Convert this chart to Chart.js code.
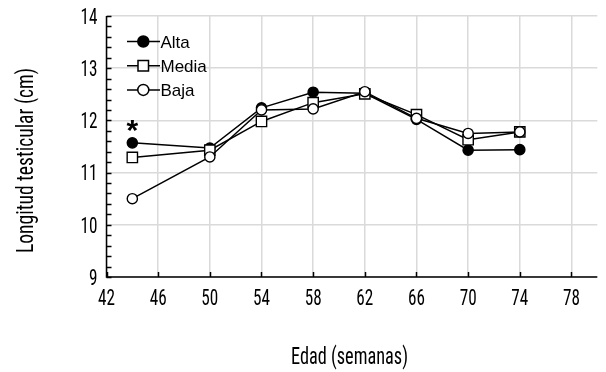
<!DOCTYPE html>
<html>
<head>
<meta charset="utf-8">
<script src="https://cdn.jsdelivr.net/npm/chart.js@4/dist/chart.umd.min.js"></script>
<style>
  html, body { margin: 0; padding: 0; background: #ffffff; }
  #wrap { width: 606px; height: 372px; position: relative; }
</style>
</head>
<body>
<div id="wrap"><canvas id="c" width="606" height="372"></canvas></div>
<script>
// Testicular length (cm) by age (weeks) for three groups
const ages = [44, 50, 54, 58, 62, 66, 70, 74];
const alta  = [11.57, 11.47, 12.24, 12.54, 12.52, 12.02, 11.43, 11.44];
const media = [11.29, 11.43, 11.98, 12.34, 12.51, 12.11, 11.63, 11.78];
const baja  = [10.50, 11.30, 12.20, 12.22, 12.55, 12.04, 11.75, 11.78];
const xTicks = [42, 46, 50, 54, 58, 62, 66, 70, 74, 78];
const yTicks = [9, 10, 11, 12, 13, 14];
const seriesNames = ['Alta', 'Media', 'Baja'];
const xTitle = 'Edad (semanas)';
const yTitle = 'Longitud testicular (cm)';

const COND = '"Roboto Condensed", "DejaVu Sans Condensed", sans-serif';
const SANS = '"Liberation Sans", Arial, sans-serif';

function pts(vals) { return ages.map((a, i) => ({ x: a, y: vals[i] })); }

// Narrow text: condensed face squeezed horizontally by factor sx
function narrowText(ctx, str, x, y, size, sx, align) {
  ctx.save();
  ctx.font = size + 'px ' + COND;
  ctx.textBaseline = 'alphabetic';
  ctx.textAlign = 'left';
  const w = ctx.measureText(str).width * sx;
  let x0 = x;
  if (align === 'center') x0 = x - w / 2;
  else if (align === 'right') x0 = x - w;
  ctx.translate(x0, y);
  ctx.scale(sx, 1);
  ctx.fillText(str, 0, 0);
  ctx.restore();
}

function fitScale(ctx, str, size, width) {
  ctx.save();
  ctx.font = size + 'px ' + COND;
  const w = ctx.measureText(str).width;
  ctx.restore();
  return width / w;
}

// Inward tick marks, tick labels, axis titles, significance mark and the legend
const decor = {
  id: 'decor',
  afterDraw(chart) {
    const { ctx, chartArea: ca, scales: { x, y } } = chart;
    ctx.save();
    ctx.strokeStyle = '#000';
    ctx.fillStyle = '#000';
    ctx.lineWidth = 1.5;
    // y ticks, minor every 0.2
    for (let k = 0; k <= 25; k++) {
      const v = 9 + k * 0.2;
      const py = Math.round(y.getPixelForValue(v)) + 0.5;
      ctx.beginPath(); ctx.moveTo(ca.left, py); ctx.lineTo(ca.left + 5, py); ctx.stroke();
    }
    // x ticks
    xTicks.forEach(t => {
      const px = Math.round(x.getPixelForValue(t)) + 0.5;
      ctx.beginPath(); ctx.moveTo(px, ca.bottom); ctx.lineTo(px, ca.bottom - 5); ctx.stroke();
    });
    // axes
    ctx.beginPath();
    ctx.moveTo(ca.left, ca.top); ctx.lineTo(ca.left, ca.bottom); ctx.lineTo(ca.right, ca.bottom);
    ctx.stroke();

    // tick labels
    const TS = 22, SX = 0.78;
    yTicks.forEach(t => {
      narrowText(ctx, String(t), ca.left - 9, y.getPixelForValue(t) + 7.8, TS, SX, 'right');
    });
    xTicks.forEach(t => {
      narrowText(ctx, String(t), x.getPixelForValue(t), ca.bottom + 28, TS, SX, 'center');
    });

    // axis titles
    narrowText(ctx, xTitle, 349.5, 364.3, 23.5, fitScale(ctx, xTitle, 23.5, 117), 'center');
    ctx.save();
    ctx.translate(33, 160.5);
    ctx.rotate(-Math.PI / 2);
    narrowText(ctx, yTitle, 0, 0, 24, fitScale(ctx, yTitle, 24, 185), 'center');
    ctx.restore();

    // significance asterisk over the first age
    ctx.font = 'bold 30px ' + SANS;
    ctx.textAlign = 'center'; ctx.textBaseline = 'alphabetic';
    ctx.fillText('*', x.getPixelForValue(ages[0]), y.getPixelForValue(alta[0]) - 3);

    // legend: line with marker, then label
    const ds = chart.data.datasets;
    ctx.font = '17px ' + SANS;
    ctx.textAlign = 'left';
    ctx.textBaseline = 'alphabetic';
    [0, 1, 2].forEach((i, k) => {
      const ly = 41.5 + k * 24.2;
      const d = ds[i];
      ctx.strokeStyle = '#000'; ctx.lineWidth = 1.5;
      ctx.beginPath(); ctx.moveTo(127, ly); ctx.lineTo(160, ly); ctx.stroke();
      ctx.fillStyle = d.pointBackgroundColor;
      ctx.beginPath();
      if (d.pointStyle === 'rect') {
        ctx.rect(138, ly - 5.25, 10.5, 10.5);
      } else {
        ctx.arc(143.3, ly, 5.5, 0, Math.PI * 2);
      }
      ctx.fill(); ctx.stroke();
      ctx.fillStyle = '#000';
      ctx.fillText(seriesNames[i], 160.5, ly + 6);
    });
    ctx.restore();
  }
};

function series(label, vals, style, fill, order) {
  return {
    label, data: pts(vals), order,
    borderColor: '#000', borderWidth: 1.5,
    pointStyle: style, pointRadius: style === 'rect' ? 7.3 : 5.1, pointHoverRadius: 5,
    pointBackgroundColor: fill, pointBorderColor: '#000', pointBorderWidth: 1.4,
    tension: 0, fill: false
  };
}

new Chart(document.getElementById('c'), {
  type: 'line',
  data: {
    datasets: [
      series('Alta', alta, 'circle', '#000', 2),
      series('Media', media, 'rect', '#fff', 1),
      series('Baja', baja, 'circle', '#fff', 0)
    ]
  },
  options: {
    responsive: false,
    animation: false,
    devicePixelRatio: 1,
    layout: { padding: { top: 16, right: 0, left: 0, bottom: 0 } },
    plugins: { legend: { display: false }, tooltip: { enabled: false } },
    scales: {
      x: {
        type: 'linear', min: 42, max: 80,
        afterBuildTicks: s => { s.ticks = xTicks.map(v => ({ value: v })); },
        afterFit: s => { s.height = 95; s.paddingLeft = 0; s.paddingRight = 0; },
        grid: { color: '#dadada', lineWidth: 1.5, drawTicks: false },
        border: { display: false },
        ticks: { display: false }
      },
      y: {
        type: 'linear', min: 9, max: 14,
        afterBuildTicks: s => { s.ticks = yTicks.map(v => ({ value: v })); },
        afterFit: s => { s.width = 106.5; s.paddingTop = 0; s.paddingBottom = 0; },
        grid: { color: '#dadada', lineWidth: 1.5, drawTicks: false },
        border: { display: false },
        ticks: { display: false }
      }
    }
  },
  plugins: [decor]
});
</script>
</body>
</html>
